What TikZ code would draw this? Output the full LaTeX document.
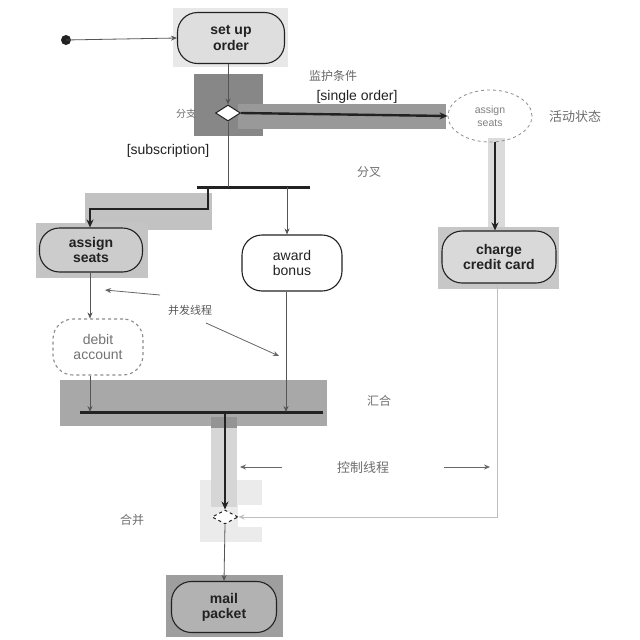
\documentclass[tikz,border=0pt]{standalone}
\usepackage{fontspec}
\setmainfont{Liberation Sans}
\newfontfamily\cjk{Noto Sans CJK SC}
\usetikzlibrary{shapes.geometric,arrows.meta}

\definecolor{ink}{HTML}{222222}
\definecolor{thinline}{HTML}{555555}
\definecolor{lbl}{HTML}{6E6E6E}

\tikzset{
  activity/.style={draw=ink, line width=1.1pt, rounded corners=20pt, align=center,
    font=\fontsize{14}{15.5}\selectfont, text=ink, inner sep=0pt},
  softactivity/.style={activity, draw=black!45, dashed, text=black!55},
  decision/.style={diamond, draw=ink, line width=1pt, fill=white, inner sep=0pt,
    minimum width=25pt, minimum height=16pt},
  bar/.style={line width=3pt, ink},
  flow/.style={draw=thinline, line width=0.8pt, -{Stealth[length=6pt,width=5pt]}},
  mainflow/.style={draw=ink, line width=2.4pt, -{Stealth[length=8pt,width=7pt]}},
  note/.style={font=\cjk\fontsize{12}{12}\selectfont, text=lbl},
  guard/.style={font=\fontsize{14}{14}\selectfont, text=ink},
  pointer/.style={draw=black!60, line width=0.8pt, -{Stealth[length=6pt,width=5pt]}},
}

\begin{document}
\begin{tikzpicture}[x=1pt, y=-1pt]
\useasboundingbox[fill=white] (0,0) rectangle (640,640);

% shaded regions behind the emphasised parts
\fill[black!9]  (173,8) rectangle (288,67);
\fill[black!47] (194,74) rectangle (263,136);
\fill[black!40] (238,104) rectangle (446,129);
\fill[black!24] (85,193) rectangle (212,230);
\fill[black!23] (36,223) rectangle (148,278);
\fill[black!14] (488,138) rectangle (505,228);
\fill[black!22] (438,227) rectangle (559,289);
\fill[black!34] (60,380) rectangle (327,426);
\fill[black!8]  (200,480) rectangle (262,542);
\fill[white]    (238,505) rectangle (262,527);
\fill[black!16] (211,426) rectangle (237,507);
\fill[black!42] (211,417) rectangle (237,428);
\fill[black!38] (166,575) rectangle (283,637);

% initial state
\fill[ink] (66,40) circle (5pt) coordinate (start);

% activity states
\node[activity, fill=black!13, font=\fontsize{14}{15.5}\selectfont\bfseries,
      minimum width=107pt, minimum height=51pt] (setup) at (231,38) {set up\\order};
\node[decision] (branch) at (228,113) {};
\node[draw=black!45, dashed, line width=0.8pt, ellipse, minimum width=84pt, minimum height=52pt,
      align=center, text=black!50, font=\fontsize{10.5}{13}\selectfont] (seatsR) at (490,116) {assign\\seats};
\node[activity, fill=black!15, font=\fontsize{14}{15}\selectfont\bfseries,
      minimum width=114pt, minimum height=52pt] (charge) at (499,257) {charge\\credit card};

\coordinate (forkL) at (197,187);
\coordinate (forkR) at (310,187);
\node[activity, fill=black!20, font=\fontsize{14}{15}\selectfont\bfseries,
      minimum width=103pt, minimum height=44pt] (seatsL) at (91,250) {assign\\seats};
\node[activity, fill=white, minimum width=100pt, minimum height=56pt] (bonus) at (292,263) {award\\bonus};
\node[softactivity, fill=white, minimum width=90pt, minimum height=56pt] (debit) at (98,347) {debit\\account};

\coordinate (joinL) at (80,412);
\coordinate (joinR) at (323,412);
\node[decision, dashed, minimum width=26pt, minimum height=14pt] (merge) at (225,517) {};
\node[activity, fill=black!30, font=\fontsize{14}{15}\selectfont\bfseries,
      minimum width=105pt, minimum height=51pt] (mail) at (224,607) {mail\\packet};

% synchronisation bars
\draw[bar] (forkL) -- (forkR);
\draw[bar] (joinL) -- (joinR);

% control flow
\draw[flow] (start) -- (setup.west);
\draw[flow] (setup.south -| branch) -- (branch.north);
\draw[mainflow] (branch.east) -- (seatsR.west);
\draw[draw=thinline, line width=1pt] (branch.south) -- (branch |- forkL);
\draw[mainflow] (208,187) -- (208,209) -- (90,209) -- (seatsL.north -| 90,0);
\draw[flow] (287,187) -- (bonus.north -| 287,0);
\draw[mainflow] (seatsR.south -| 495,0) -- (charge.north -| 495,0);
\draw[flow] (seatsL.south -| 90,0) -- (debit.north -| 90,0);
\draw[flow] (debit.south -| 90,0) -- (90,412);
\draw[flow] (bonus.south -| 286,0) -- (286,412);
\draw[mainflow] (225,412) -- (merge.north);
\draw[draw=black!25, line width=0.9pt, -{Stealth[length=6pt,width=5pt]}]
     (charge.south -| 497,0) -- (497,517) -- (merge.east);
\draw[flow] (merge.south) -- (mail.north);

% guards and annotations
\node[note, text=black!60] (guardnote) at (333,76) {监护条件};
\node[guard] (single) at (357,97) {[single order]};
\node[guard] (subscr) at (168,151) {[subscription]};
\node[note, font=\cjk\fontsize{10}{10}\selectfont] (branchnote) at (186,114) {分支};
\node[note, font=\cjk\fontsize{13}{13}\selectfont] (statenote) at (575,117) {活动状态};
\node[note] (forknote) at (369,172) {分叉};
\node[note, font=\cjk\fontsize{11}{11}\selectfont, text=black!65] (concnote) at (190,310) {并发线程};
\node[note] (joinnote) at (379,401) {汇合};
\node[note, font=\cjk\fontsize{13}{13}\selectfont] (ctrlnote) at (363,468) {控制线程};
\node[note] (mergenote) at (132,520) {合并};

\coordinate (c1a) at (160,295);
\coordinate (c1b) at (105,290);
\coordinate (c2a) at (206,323);
\coordinate (c2b) at (279,356);
\draw[pointer] (c1a) -- (c1b);
\draw[pointer] (c2a) -- (c2b);
\coordinate (t1a) at (282,467);
\coordinate (t1b) at (240,467);
\coordinate (t2a) at (444,467);
\coordinate (t2b) at (490,467);
\draw[pointer] (t1a) -- (t1b);
\draw[pointer] (t2a) -- (t2b);
\end{tikzpicture}
\end{document}
